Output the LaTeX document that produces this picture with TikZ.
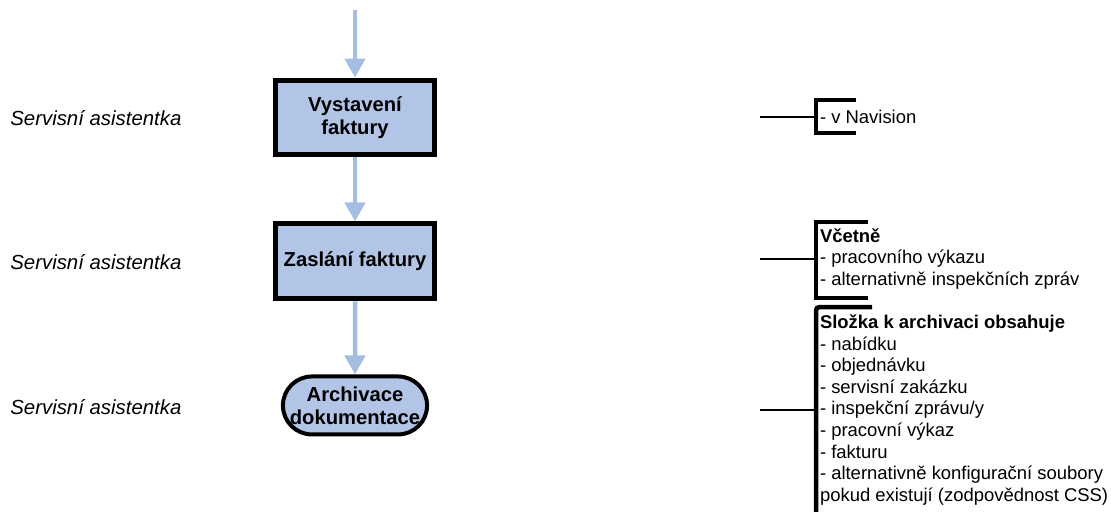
\documentclass[tikz,border=0pt]{standalone}
\usepackage{fontspec}
\setmainfont{Liberation Sans}
\usepackage{tikz}
\usetikzlibrary{positioning, shapes.misc, arrows.meta}

\definecolor{vypln}{RGB}{178,197,230}
\definecolor{sipka}{RGB}{166,189,226}

\tikzset{
  attivita/.style={rectangle, draw, line width=0.1cm, fill=vypln, minimum width=3.18cm, minimum height=1.5cm, align=center, font=\fontsize{11.5}{13}\selectfont\bfseries},
  terminale/.style={rounded rectangle, draw, line width=0.08cm, fill=vypln, minimum width=2.74cm, minimum height=1.16cm, inner xsep=0pt, align=center, font=\fontsize{11.5}{13}\selectfont\bfseries},
  freccia/.style={draw=sipka, line width=0.09cm, -{Triangle[width=0.4cm, length=0.38cm]}},
  role/.style={anchor=west, inner sep=0pt, font=\fontsize{11.6}{13}\selectfont\itshape},
  poznamka/.style={anchor=west, align=left, inner xsep=0.08cm, inner ysep=0pt, outer sep=0pt, font=\fontsize{10.5}{12.3}\selectfont},
  zavorka/.style={line width=0.09cm},
  spojnice/.style={line width=0.6pt}
}

\begin{document}
\begin{tikzpicture}[x=0.02cm, y=-0.02cm]
  \useasboundingbox (0,0) rectangle (1111,511);

  % Činnosti
  \node[attivita] (vystaveni) at (355,117.5) {Vystavení\\faktury};
  \node[attivita, below=1.28cm of vystaveni] (zaslani) {Zaslání faktury};
  \node[terminale, below=1.46cm of zaslani] (archivace) {Archivace\\dokumentace};

  % Šipky
  \coordinate (zacatek) at (355,10);
  \draw[freccia] (zacatek) -- (vystaveni);
  \draw[freccia] (vystaveni) -- (zaslani);
  \draw[freccia] (zaslani) -- (archivace);

  % Role
  \node[role] (role1) at (10,118) {Servisní asistentka};
  \node[role] (role2) at (10,262) {Servisní asistentka};
  \node[role] (role3) at (10,407) {Servisní asistentka};

  % Poznámky
  \node[poznamka] (pozn1) at (816,117) {- v Navision};
  \node[poznamka] (pozn2) at (816,259) {\textbf{Včetně}\\- pracovního výkazu\\- alternativně inspekčních zpráv};
  \node[poznamka] (pozn3) at (816,410) {\textbf{Složka k archivaci obsahuje}\\- nabídku\\- objednávku\\- servisní zakázku\\- inspekční zprávu/y\\- pracovní výkaz\\- fakturu\\- alternativně konfigurační soubory\\pokud existují (zodpovědnost CSS)};

  % Závorky
  \draw[zavorka] ([shift={(40,-17)}]pozn1.west) -- ++(-40,0) -- ++(0,33) -- ++(40,0);
  \draw[zavorka] ([shift={(52,-37)}]pozn2.west) -- ++(-52,0) -- ++(0,76) -- ++(52,0);
  \draw[zavorka, rounded corners=2pt] ([shift={(56,-103)}]pozn3.west) -- ++(-56,0) -- ++(0,215);

  % Spojnice
  \coordinate (r1) at (760,117);
  \coordinate (r2) at (760,259);
  \coordinate (r3) at (760,410);
  \draw[spojnice] (r1) -- (pozn1.west);
  \draw[spojnice] (r2) -- (pozn2.west);
  \draw[spojnice] (r3) -- (pozn3.west);
\end{tikzpicture}
\end{document}
